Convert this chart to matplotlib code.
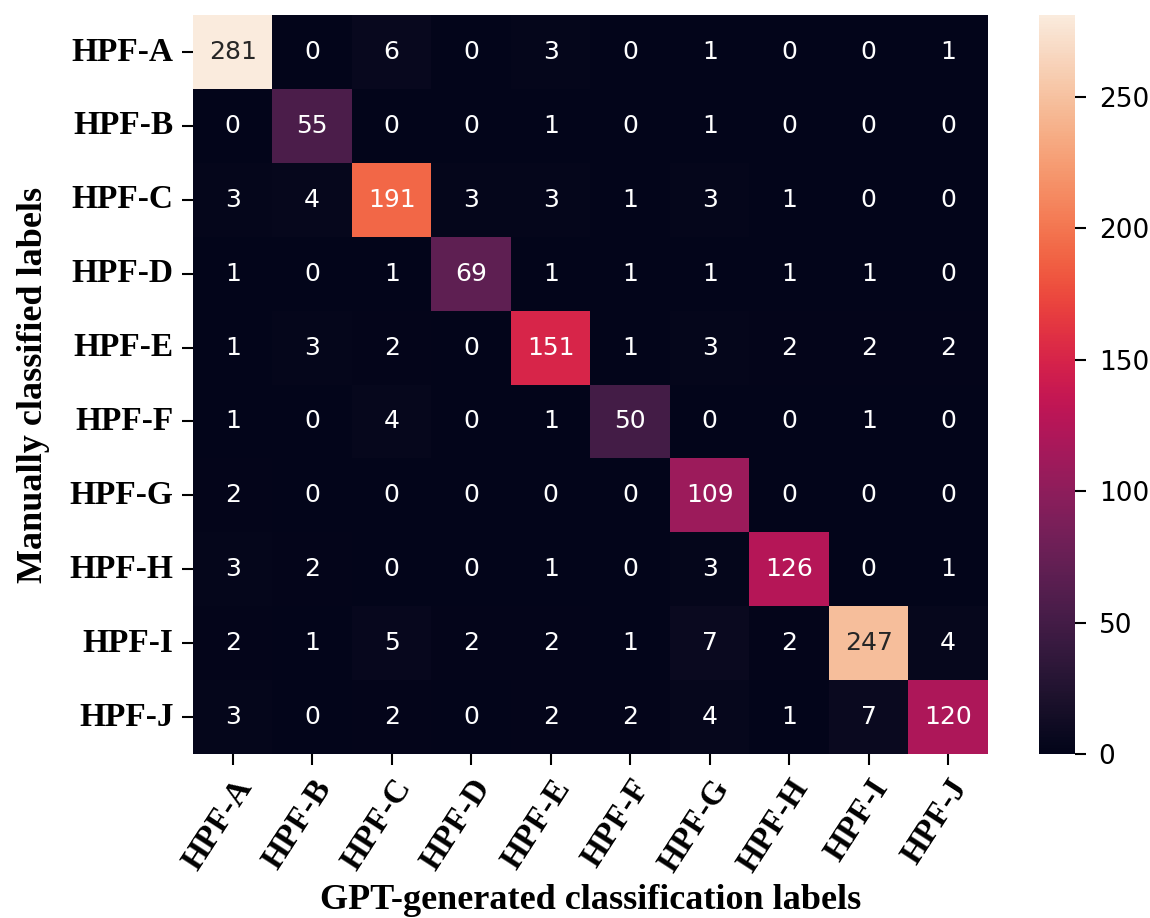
import numpy as np
import pandas as pd
import seaborn as sns
import matplotlib.pyplot as plt

labels = ['HPF-A', 'HPF-B', 'HPF-C', 'HPF-D', 'HPF-E',
          'HPF-F', 'HPF-G', 'HPF-H', 'HPF-I', 'HPF-J']

# rows: manually classified, cols: GPT-generated
row_a = [281, 0, 6, 0, 3, 0, 1, 0, 0, 1]
row_b = [0, 55, 0, 0, 1, 0, 1, 0, 0, 0]
row_c = [3, 4, 191, 3, 3, 1, 3, 1, 0, 0]
row_d = [1, 0, 1, 69, 1, 1, 1, 1, 1, 0]
row_e = [1, 3, 2, 0, 151, 1, 3, 2, 2, 2]
row_f = [1, 0, 4, 0, 1, 50, 0, 0, 1, 0]
row_g = [2, 0, 0, 0, 0, 0, 109, 0, 0, 0]
row_h = [3, 2, 0, 0, 1, 0, 3, 126, 0, 1]
row_i = [2, 1, 5, 2, 2, 1, 7, 2, 247, 4]
row_j = [3, 0, 2, 0, 2, 2, 4, 1, 7, 120]

cm = pd.DataFrame([row_a, row_b, row_c, row_d, row_e,
                   row_f, row_g, row_h, row_i, row_j],
                  index=labels, columns=labels)

serif_bold = {'family': 'Liberation Serif', 'weight': 'bold'}

fig = plt.figure(figsize=(11.5, 9.18), dpi=100)
ax = fig.add_axes([0.1678, 0.1786, 0.6913, 0.805])
cax = fig.add_axes([0.9035, 0.1786, 0.0313, 0.805])

sns.heatmap(cm, annot=True, fmt='d', cmap='rocket', ax=ax, cbar_ax=cax,
            annot_kws={'fontsize': 18})

ax.set_xticklabels(labels, rotation=57, ha='right', rotation_mode='anchor',
                   fontsize=24, fontdict=serif_bold)
ax.set_yticklabels(labels, rotation=0, fontsize=24, fontdict=serif_bold)
ax.tick_params(axis='both', length=8, width=1.5, pad=6)
ax.set_xlabel('GPT-generated classification labels', fontsize=26,
              fontdict=serif_bold, labelpad=5)
ax.set_ylabel('Manually classified labels', fontsize=26,
              fontdict=serif_bold, labelpad=14)

cax.tick_params(labelsize=19, length=8, width=1.5, pad=9)

fig.savefig('out.png', dpi=100)
